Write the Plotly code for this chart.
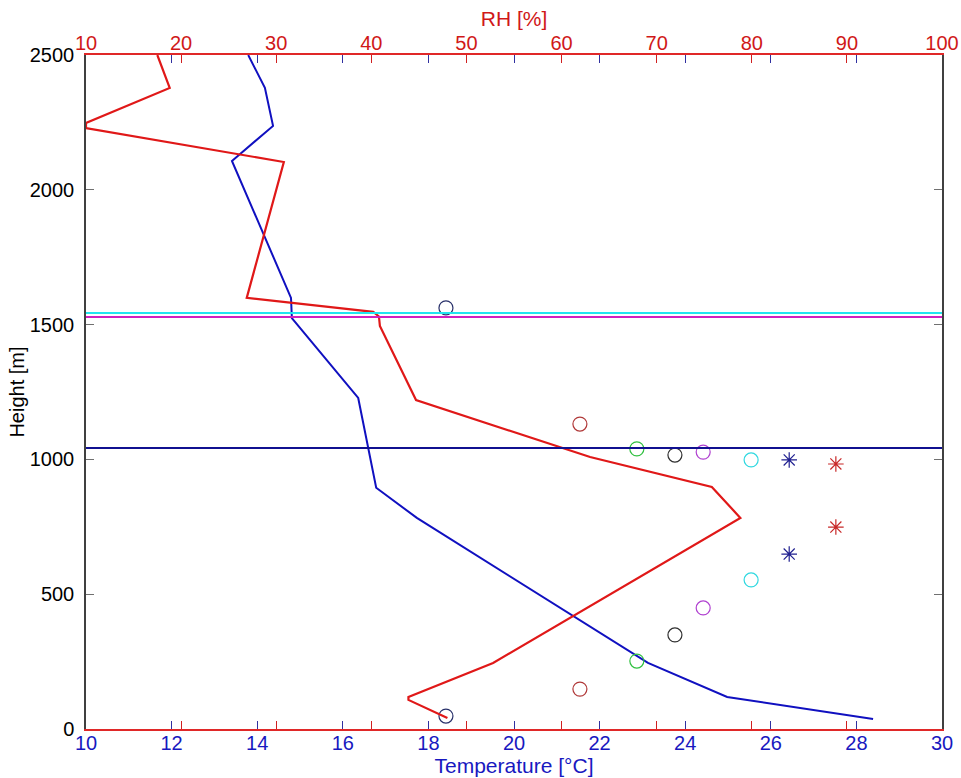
import plotly.graph_objects as go

# Temperature profile (bottom axis, °C)
temp_height = [2500, 2378, 2237, 2107, 1599, 1524, 1228, 895, 783, 245, 119, 37]
temp_values = [13.79, 14.18, 14.37, 13.41, 14.79, 14.81, 16.36, 16.78, 17.73, 23.13, 24.98, 28.39]

# Relative humidity profile (top axis, %)
rh_height = [2500, 2378, 2248, 2229, 2103, 1599, 1547, 1530, 1495, 1220, 1009, 898, 783, 245, 119, 108, 41]
rh_values = [17.5, 18.8, 10.0, 10.0, 30.8, 26.9, 40.2, 40.8, 40.9, 44.7, 63.0, 75.8, 78.8, 52.8, 43.9, 43.9, 48.0]

# Horizontal reference levels (m)
level_heights = [1543, 1528, 1042]
level_colors = ["#22E5F0", "#D020C0", "#101090"]

# Marker pairs (x on temperature axis)
marker_x = [18.41, 21.54, 22.87, 23.76, 24.42, 25.54, 26.43, 27.52]
marker_upper = [1562, 1131, 1039, 1016, 1027, 998, 998, 983]
marker_lower = [48, 148, 252, 349, 449, 553, 649, 749]
marker_colors = ["#28306A", "#B03838", "#30C040", "#303030", "#B040D0", "#30D8E0", "#202090", "#C82828"]
marker_symbols = ["circle-open"] * 6 + ["asterisk-open"] * 2

temp_ticks = list(range(10, 31, 2))
rh_ticks = list(range(10, 101, 10))
height_ticks = list(range(0, 2501, 500))

FONT = "Liberation Sans, Arial, sans-serif"

fig = go.Figure()

fig.add_trace(go.Scatter(x=temp_values, y=temp_height, mode="lines",
                         line=dict(color="#1010C0", width=2), xaxis="x", yaxis="y",
                         showlegend=False))
fig.add_trace(go.Scatter(x=rh_values, y=rh_height, mode="lines",
                         line=dict(color="#E01818", width=2.2), xaxis="x2", yaxis="y",
                         showlegend=False, cliponaxis=True))

for h, c in zip(level_heights, level_colors):
    fig.add_hline(y=h, line=dict(color=c, width=2))

for xv, hu, hl, c, s in zip(marker_x, marker_upper, marker_lower, marker_colors, marker_symbols):
    fig.add_trace(go.Scatter(x=[xv, xv], y=[hu, hl], mode="markers",
                             marker=dict(symbol=s, size=14 if s.startswith("circle") else 13,
                                         color=c, line=dict(color=c, width=1.2)),
                             xaxis="x", yaxis="y", showlegend=False))

fig.update_layout(
    width=961, height=778,
    margin=dict(l=86, r=19, t=55, b=49),
    paper_bgcolor="white", plot_bgcolor="white",
    font=dict(family=FONT, size=20, color="black"),
    xaxis=dict(range=[10, 30], tickvals=temp_ticks, ticks="inside", ticklen=8,
               tickcolor="#3030A0", tickwidth=1, showgrid=False, zeroline=False,
               showline=True, linecolor="#E07070", linewidth=2, mirror="ticks",
               automargin=False, ticklabelstandoff=-5,
               tickfont=dict(color="#1818C0", size=20),
               title=dict(text="Temperature [°C]", font=dict(color="#1818C0", size=21), standoff=0)),
    xaxis2=dict(range=[10, 100], tickvals=rh_ticks, ticks="inside", ticklen=8,
                tickcolor="#D02020", tickwidth=1, showgrid=False, zeroline=False,
                overlaying="x", side="top", showline=True, linecolor="#E02828", linewidth=1.5,
                mirror="ticks", automargin=False, ticklabelstandoff=-5,
                tickfont=dict(color="#D01818", size=20),
                title=dict(text="RH [%]", font=dict(color="#D01818", size=21), standoff=0)),
    yaxis=dict(range=[0, 2500], tickvals=height_ticks, ticks="inside", ticklen=8,
               tickcolor="#707070", showgrid=False, zeroline=False, showline=True,
               linecolor="#404040", linewidth=1.5, mirror="ticks", automargin=False,
               ticklabelstandoff=6,
               tickfont=dict(color="black", size=20),
               title=dict(text="Height [m]", font=dict(color="black", size=20), standoff=0)),
)

fig.write_html("out.html")
